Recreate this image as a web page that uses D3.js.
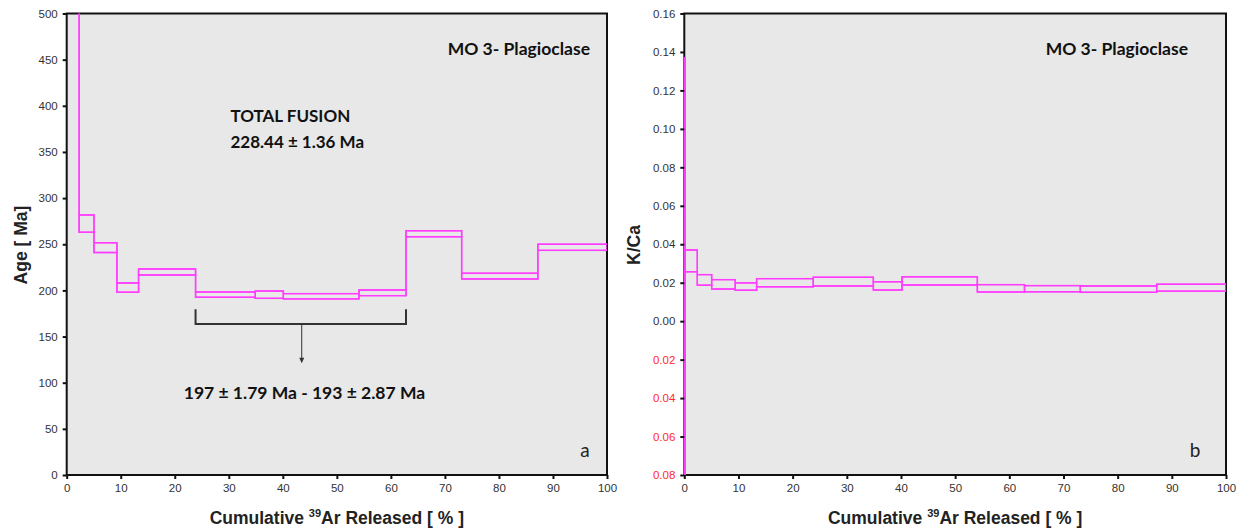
<!DOCTYPE html>
<html>
<head>
<meta charset="utf-8">
<script src="https://cdn.jsdelivr.net/npm/d3@7"></script>
<style>
  body { margin: 0; background: #fff; }
  svg { display: block; }
</style>
</head>
<body>
<div id="chart"></div>
<script>
var width = 1239;
var height = 532;

// step boundaries in cumulative 39Ar released (%)
var stepEdges = [0, 0.15, 2.3, 5.05, 9.3, 13.3, 23.85, 34.9, 40.1, 54.1, 62.8, 73.1, 87.2, 100];

// age spectrum, Ma (low / high of each step box)
var ageLow  = [620, 560, 263, 241, 198, 216.7, 192.5, 191.4, 190.8, 194.3, 258.2, 212.4, 243.4];
var ageHigh = [700, 640, 281.7, 251.7, 208, 223.2, 198.3, 199.3, 196.5, 200.4, 264.7, 218.5, 250];

// K/Ca spectrum
var kcaEdges = [0, 0.15, 2.4, 5.05, 9.4, 13.35, 23.8, 34.9, 40.2, 54.1, 62.8, 73.1, 87.2, 100];
var kcaLow  = [-0.1, 0.0257, 0.0187, 0.0167, 0.0161, 0.0179, 0.0183, 0.0162, 0.0188, 0.0152, 0.0153, 0.0150, 0.0156];
var kcaHigh = [0.137, 0.037, 0.0242, 0.0216, 0.0199, 0.0221, 0.0228, 0.0205, 0.0231, 0.0190, 0.0185, 0.0183, 0.0192];

var xTicks = [0, 10, 20, 30, 40, 50, 60, 70, 80, 90, 100];
var ageTicks = [0, 50, 100, 150, 200, 250, 300, 350, 400, 450, 500];
var kcaTicks = [-0.08, -0.06, -0.04, -0.02, 0, 0.02, 0.04, 0.06, 0.08, 0.10, 0.12, 0.14, 0.16];

var plateau = [23.85, 62.8];

var svg = d3.select("#chart").append("svg").attr("width", width).attr("height", height);

var stepColour = "#ff3cff";
var tickFont = "Arial, 'Liberation Sans', sans-serif";
var noteFont = "Lato, 'Open Sans', sans-serif";

function drawPanel(opts) {
    var x = d3.scaleLinear().domain([0, 100]).range([opts.left, opts.right]);
    var y = d3.scaleLinear().domain(opts.yDomain).range([475, 13.5]);

    var g = svg.append("g").attr("class", opts.name);

    g.append("rect")
        .attr("x", opts.left).attr("y", 13.5)
        .attr("width", opts.right - opts.left).attr("height", 475 - 13.5)
        .attr("fill", "#e8e8e8");

    var clipId = "clip_" + opts.name;
    g.append("clipPath").attr("id", clipId)
        .append("rect")
        .attr("x", opts.left - 1).attr("y", 13.5)
        .attr("width", opts.right - opts.left + 1).attr("height", 475 - 13.5);

    // frame
    g.append("rect")
        .attr("x", opts.left).attr("y", 13.5)
        .attr("width", opts.right - opts.left).attr("height", 475 - 13.5)
        .attr("fill", "none")
        .attr("stroke", "#111")
        .attr("stroke-width", 2);

    var steps = [];
    for (var i = 0; i < opts.low.length; i++) {
        steps.push({ x0: opts.edges[i], x1: opts.edges[i + 1], lo: opts.low[i], hi: opts.high[i] });
    }

    var cg = g.append("g").attr("clip-path", "url(#" + clipId + ")");

    cg.selectAll(".step").data(steps).enter().append("rect")
        .attr("class", "step")
        .attr("x", function(d){ return x(d.x0); })
        .attr("y", function(d){ return y(d.hi); })
        .attr("width", function(d){ return x(d.x1) - x(d.x0); })
        .attr("height", function(d){ return y(d.lo) - y(d.hi); })
        .attr("fill", "none")
        .attr("stroke", stepColour)
        .attr("stroke-width", 1.4);

    // upper and lower envelopes, joined between steps
    var envelope = function(key) {
        return d3.line()
            .x(function(d){ return x(d.x); })
            .y(function(d){ return y(d.v); })
            .curve(d3.curveStepAfter)(steps.map(function(d){ return { x: d.x0, v: d[key] }; })
                .concat([{ x: 100, v: steps[steps.length - 1][key] }]));
    };
    ["hi", "lo"].forEach(function(k){
        cg.append("path").attr("d", envelope(k))
            .attr("fill", "none").attr("stroke", stepColour).attr("stroke-width", 1.4);
    });

    var xAxis = g.append("g").attr("transform", "translate(0,475)")
        .call(d3.axisBottom(x).tickValues(xTicks).tickSize(4).tickSizeOuter(0).tickPadding(5));
    xAxis.select(".domain").remove();
    xAxis.selectAll("line").attr("stroke", "#111").attr("stroke-width", 2);
    xAxis.selectAll("text").attr("font-family", tickFont).attr("font-size", 11.5).attr("fill", "#333");

    var yAxis = g.append("g").attr("transform", "translate(" + opts.left + ",0)")
        .call(d3.axisLeft(y).tickValues(opts.yTicks).tickSize(4).tickSizeOuter(0).tickPadding(5)
            .tickFormat(opts.yFormat));
    yAxis.select(".domain").remove();
    yAxis.selectAll("line").attr("stroke", "#111").attr("stroke-width", 2);
    yAxis.selectAll("text").attr("font-family", tickFont).attr("font-size", 11.5)
        .attr("fill", function(d){ return d < 0 ? "#ff2a2a" : "#333"; });

    g.append("text")
        .attr("x", (opts.left + opts.right) / 2).attr("y", 524)
        .attr("text-anchor", "middle")
        .attr("font-family", tickFont).attr("font-weight", "bold").attr("font-size", 17.5)
        .attr("fill", "#222")
        .call(function(t){
            t.append("tspan").text("Cumulative ");
            t.append("tspan").attr("font-size", 11).attr("dy", -7).text("39");
            t.append("tspan").attr("dy", 7).text("Ar Released  [ % ]");
        });

    g.append("text")
        .attr("transform", "translate(" + opts.yTitleX + ",245) rotate(-90)")
        .attr("text-anchor", "middle")
        .attr("font-family", tickFont).attr("font-weight", "bold").attr("font-size", 17.5)
        .attr("fill", "#222")
        .text(opts.yTitle);

    g.append("text")
        .attr("x", opts.nameEnd).attr("y", 55)
        .attr("text-anchor", "end")
        .attr("font-family", noteFont).attr("font-weight", "bold").attr("font-size", 17.5)
        .attr("fill", "#111")
        .text("MO 3- Plagioclase");

    g.append("text")
        .attr("x", opts.letterX).attr("y", 457)
        .attr("text-anchor", "middle")
        .attr("font-family", noteFont).attr("font-size", 19)
        .attr("fill", "#222")
        .text(opts.letter);

    return { x: x, y: y, g: g };
}

var left = drawPanel({
    name: "age", left: 66.7, right: 607,
    yDomain: [0, 500], yTicks: ageTicks, yFormat: d3.format("d"),
    edges: stepEdges, low: ageLow, high: ageHigh,
    yTitle: "Age [ Ma]", yTitleX: 27, letter: "a", letterX: 585, nameEnd: 590
});

var right = drawPanel({
    name: "kca", left: 684.3, right: 1226,
    yDomain: [-0.08, 0.16], yTicks: kcaTicks,
    yFormat: function(d){ return Math.abs(d).toFixed(2); },
    edges: kcaEdges, low: kcaLow, high: kcaHigh,
    yTitle: "K/Ca", yTitleX: 640, letter: "b", letterX: 1195, nameEnd: 1188
});

// annotations on the age panel
var ax = left.x, ay = left.y, ag = left.g;

ag.append("text").attr("x", ax(30.3)).attr("y", ay(382))
    .attr("font-family", noteFont).attr("font-weight", "bold").attr("font-size", 17).attr("fill", "#111")
    .text("TOTAL FUSION");
ag.append("text").attr("x", ax(30.3)).attr("y", ay(354))
    .attr("font-family", noteFont).attr("font-weight", "bold").attr("font-size", 17).attr("fill", "#111")
    .text("228.44 \u00b1 1.36 Ma");

var bracketY = ay(163.6), bracketTop = ay(179.5);
ag.append("path")
    .attr("d", "M" + ax(plateau[0]) + "," + bracketTop + "V" + bracketY + "H" + ax(plateau[1]) + "V" + bracketTop)
    .attr("fill", "none").attr("stroke", "#333").attr("stroke-width", 2);

ag.append("line")
    .attr("x1", ax(43.5)).attr("x2", ax(43.5))
    .attr("y1", bracketY).attr("y2", ay(126))
    .attr("stroke", "#333").attr("stroke-width", 1);
ag.append("path")
    .attr("d", "M" + (ax(43.5) - 2.5) + "," + ay(127) + "L" + (ax(43.5) + 2.5) + "," + ay(127) + "L" + ax(43.5) + "," + ay(121) + "Z")
    .attr("fill", "#333");

ag.append("text").attr("x", ax(44)).attr("y", ay(82))
    .attr("text-anchor", "middle")
    .attr("font-family", noteFont).attr("font-weight", "bold").attr("font-size", 17.5).attr("fill", "#111")
    .text("197 \u00b1 1.79 Ma - 193 \u00b1 2.87 Ma");
</script>
</body>
</html>
